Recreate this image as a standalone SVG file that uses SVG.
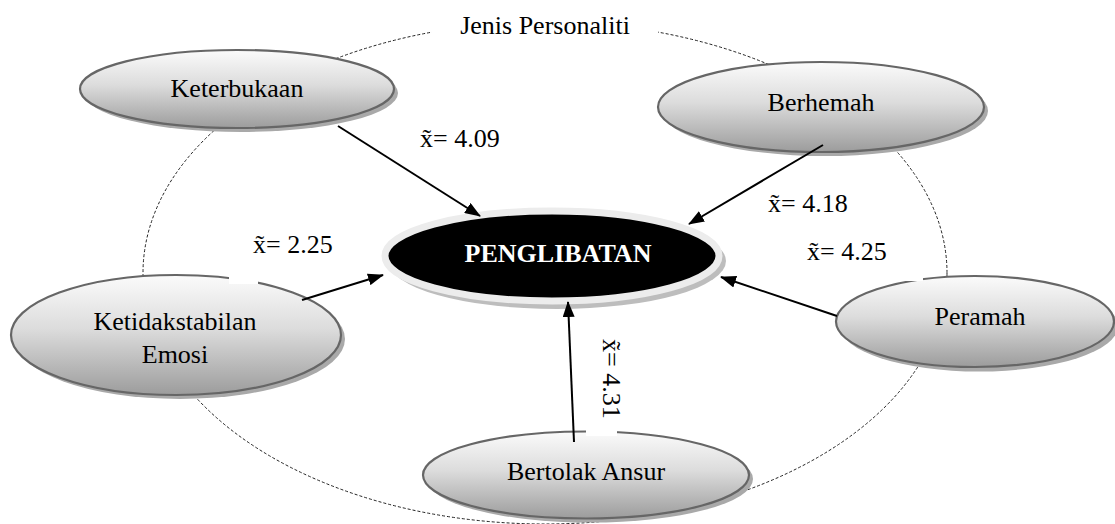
<svg xmlns="http://www.w3.org/2000/svg" width="1115" height="524" viewBox="0 0 1115 524">
<style>
text{font-family:"Liberation Serif","Times New Roman",serif;font-size:26px;fill:#000}
.nd{fill:url(#g);stroke:#666;stroke-width:2.2}
.sh{fill:#a9a9a9}
.ln{stroke:#000;stroke-width:2;fill:none;marker-end:url(#ah)}
.mask{fill:#fff}
</style>
<defs>
<linearGradient id="g" x1="0" y1="0" x2="0" y2="1">
<stop offset="0" stop-color="#fbfbfb"/>
<stop offset="0.45" stop-color="#dcdcdc"/>
<stop offset="1" stop-color="#9c9c9c"/>
</linearGradient>
<marker id="ah" markerUnits="userSpaceOnUse" markerWidth="16" markerHeight="12" viewBox="0 0 16 12" refX="15" refY="6" orient="auto">
<path d="M0,0 L16,6 L0,12 z" fill="#000"/>
</marker>
</defs>
<rect width="1115" height="524" fill="#fff"/>
<g id="frame">
<ellipse cx="545" cy="273" rx="402" ry="251" fill="none" stroke="#222" stroke-width="1" stroke-dasharray="3,2"/>
<rect class="mask" x="432" y="8" width="226" height="36"/>
<text x="545" y="34" text-anchor="middle">Jenis Personaliti</text>
</g>
<g id="node-keterbukaan">
<ellipse class="sh" cx="241" cy="93" rx="157" ry="39"/>
<ellipse class="nd" cx="237" cy="89" rx="157" ry="39"/>
<text x="237" y="97" text-anchor="middle">Keterbukaan</text>
</g>
<g id="node-berhemah">
<ellipse class="sh" cx="825" cy="111" rx="163" ry="45"/>
<ellipse class="nd" cx="821" cy="107" rx="163" ry="45"/>
<text x="821" y="111" text-anchor="middle">Berhemah</text>
</g>
<g id="node-ketidakstabilan">
<ellipse class="sh" cx="180" cy="339" rx="165" ry="60"/>
<ellipse class="nd" cx="176" cy="335" rx="165" ry="60"/>
<rect class="mask" x="229" y="268" width="29" height="16"/>
<text x="175" y="330" text-anchor="middle">Ketidakstabilan</text>
<text x="175" y="363" text-anchor="middle">Emosi</text>
</g>
<g id="node-peramah">
<ellipse class="sh" cx="979" cy="326" rx="139" ry="45.5"/>
<ellipse class="nd" cx="975" cy="321.5" rx="139" ry="45.5"/>
<rect class="mask" x="903" y="268" width="20" height="13"/>
<text x="980" y="325" text-anchor="middle">Peramah</text>
</g>
<g id="node-bertolak">
<ellipse class="sh" cx="590" cy="479" rx="163" ry="43.5"/>
<ellipse class="nd" cx="586" cy="475" rx="163" ry="43.5"/>
<rect class="mask" x="586" y="420" width="31" height="16"/>
<text x="586" y="480" text-anchor="middle">Bertolak Ansur</text>
</g>
<g id="node-penglibatan">
<ellipse cx="557" cy="261" rx="169" ry="48" fill="#bdbdbd"/>
<ellipse cx="552" cy="256" rx="167" ry="45" fill="#000" stroke="#ececec" stroke-width="7"/>
<text x="558" y="262" text-anchor="middle" font-weight="bold" style="fill:#fff">PENGLIBATAN</text>
</g>
<g id="connectors">
<line class="ln" x1="338" y1="126" x2="480" y2="216"/>
<line class="ln" x1="823" y1="145" x2="689" y2="224"/>
<line class="ln" x1="302" y1="300" x2="383" y2="275"/>
<line class="ln" x1="837" y1="316" x2="721" y2="277"/>
<line class="ln" x1="574" y1="442" x2="568" y2="302"/>
</g>
<g id="labels">
<text x="420" y="147"><tspan>x&#x303;</tspan><tspan>= 4.09</tspan></text>
<text x="768" y="212"><tspan>x&#x303;</tspan><tspan>= 4.18</tspan></text>
<text x="253" y="253"><tspan>x&#x303;</tspan><tspan>= 2.25</tspan></text>
<text x="807" y="260"><tspan>x&#x303;</tspan><tspan>= 4.25</tspan></text>
<text transform="translate(603,339) rotate(90)"><tspan>x&#x303;</tspan><tspan>= 4.31</tspan></text>
</g>
</svg>
